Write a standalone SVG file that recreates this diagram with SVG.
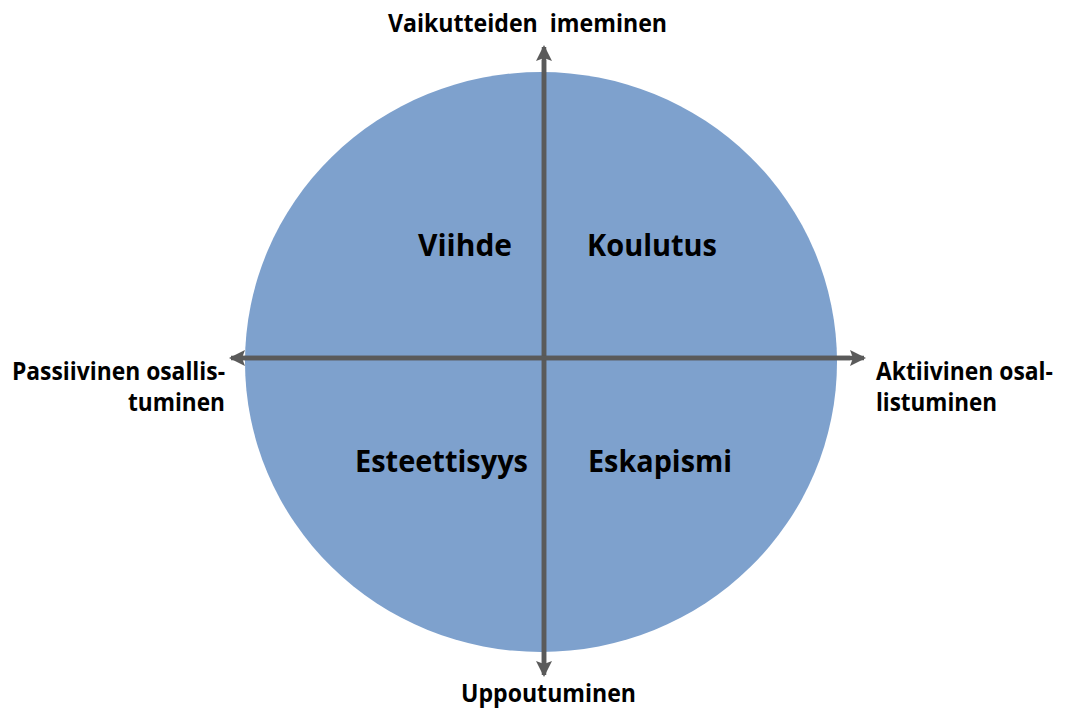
<svg xmlns="http://www.w3.org/2000/svg" width="1066" height="708" viewBox="0 0 1066 708">
  <style>
    .lbl { font-family: "Open Sans", "Liberation Sans", sans-serif; font-weight: bold; fill: #000; }
    .axis { font-size: 25px; }
    .quad { font-size: 31px; }
    .conn { stroke: #5a5a5a; stroke-width: 4.5; fill: none; }
  </style>
  <defs>
    <marker id="arrow" viewBox="0 0 16 16" refX="14" refY="8" markerUnits="userSpaceOnUse" markerWidth="16" markerHeight="16" orient="auto">
      <path d="M0,0 L16,8 L0,16 L3,8 Z" fill="#5a5a5a"/>
    </marker>
  </defs>
  <rect width="1066" height="708" fill="#ffffff"/>
  <g id="circle">
    <ellipse cx="541" cy="362" rx="296" ry="290" fill="#7ea1cd"/>
  </g>
  <g id="connectors">
    <line class="conn" x1="544" y1="668" x2="544" y2="47" marker-end="url(#arrow)"/>
    <line class="conn" x1="544" y1="60" x2="544" y2="675" marker-end="url(#arrow)"/>
    <line class="conn" x1="240" y1="358" x2="864" y2="358" marker-end="url(#arrow)"/>
    <line class="conn" x1="850" y1="358" x2="231" y2="358" marker-end="url(#arrow)"/>
  </g>
  <g id="node-viihde">
    <text class="lbl quad" x="418" y="256" textLength="94" lengthAdjust="spacingAndGlyphs">Viihde</text>
  </g>
  <g id="node-koulutus">
    <text class="lbl quad" x="587" y="256" textLength="130" lengthAdjust="spacingAndGlyphs">Koulutus</text>
  </g>
  <g id="node-esteettisyys">
    <text class="lbl quad" x="355" y="472" textLength="173" lengthAdjust="spacingAndGlyphs">Esteettisyys</text>
  </g>
  <g id="node-eskapismi">
    <text class="lbl quad" x="588" y="472" textLength="144" lengthAdjust="spacingAndGlyphs">Eskapismi</text>
  </g>
  <g id="node-top">
    <text class="lbl axis" x="388" y="32" textLength="279" lengthAdjust="spacingAndGlyphs" xml:space="preserve">Vaikutteiden  imeminen</text>
  </g>
  <g id="node-bottom">
    <text class="lbl axis" x="461" y="702" textLength="175" lengthAdjust="spacingAndGlyphs">Uppoutuminen</text>
  </g>
  <g id="node-left">
    <text class="lbl axis" x="12" y="380" textLength="213" lengthAdjust="spacingAndGlyphs">Passiivinen osallis-</text>
    <text class="lbl axis" x="128" y="411" textLength="97" lengthAdjust="spacingAndGlyphs">tuminen</text>
  </g>
  <g id="node-right" transform="translate(876,0) scale(0.88,1)">
    <text class="lbl axis" x="0" y="380" textLength="201" lengthAdjust="spacingAndGlyphs">Aktiivinen osal-</text>
    <text class="lbl axis" x="0" y="411" textLength="137.5" lengthAdjust="spacingAndGlyphs">listuminen</text>
  </g>
</svg>
